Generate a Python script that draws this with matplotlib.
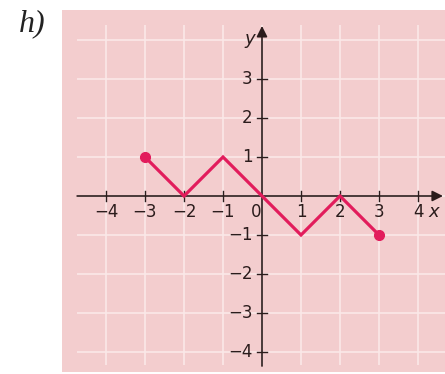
import matplotlib
matplotlib.use("Agg")
import matplotlib.pyplot as plt
from matplotlib.patches import Rectangle

# piecewise graph h)
xs = [-3, -2, -1, 0, 1, 2, 3]
ys = [1, 0, 1, 0, -1, 0, -1]
x_ticks = [-4, -3, -2, -1, 1, 2, 3, 4]
y_ticks = [-4, -3, -2, -1, 1, 2, 3]
grid_vals = [-4, -3, -2, -1, 0, 1, 2, 3, 4]

BG = "#f3cdce"
GRID = "#fbe8e8"
LINE = "#e21c5c"
AX = "#2b1c1c"

plt.rcParams["font.family"] = ["Liberation Sans Narrow", "DejaVu Sans"]

fig = plt.figure(figsize=(4.45, 3.74), dpi=100)
ax = fig.add_axes([0, 0, 1, 1])
# pixel -> data: x = (px - 262) / 39, y = (196 - py) / 39
ax.set_xlim(-262 / 39, 183 / 39)
ax.set_ylim(-178 / 39, 196 / 39)
ax.axis("off")

ax.add_patch(Rectangle((-200 / 39, -176 / 39), 400 / 39, 362 / 39,
                       facecolor=BG, edgecolor="none", zorder=0))

ax.vlines(grid_vals, -4.33, 4.38, color=GRID, lw=1.2, zorder=1)
ax.hlines(grid_vals, -4.74, 4.75, color=GRID, lw=1.2, zorder=1)

# axes with arrows
ax.annotate("", xy=(4.64, 0), xytext=(-4.74, 0),
            arrowprops=dict(arrowstyle="-|>", color=AX, lw=1.2,
                            mutation_scale=16, shrinkA=0, shrinkB=0), zorder=3)
ax.annotate("", xy=(0, 4.36), xytext=(0, -4.36),
            arrowprops=dict(arrowstyle="-|>", color=AX, lw=1.2,
                            mutation_scale=16, shrinkA=0, shrinkB=0), zorder=3)

t = 0.13
for xv in x_ticks:
    ax.plot([xv, xv], [-t, t], color=AX, lw=1.0, zorder=3)
    ax.text(xv, -0.41, f"{xv}".replace("-", "\u2212"), ha="center", va="center",
            fontsize=12, color=AX, zorder=4)
ax.text(-0.16, -0.41, "0", ha="center", va="center", fontsize=12, color=AX, zorder=4)
for yv in y_ticks:
    ax.plot([-t, t], [yv, yv], color=AX, lw=1.0, zorder=3)
    ax.text(-0.24, yv, f"{yv}".replace("-", "\u2212"), ha="right", va="center",
            fontsize=12, color=AX, zorder=4)

ax.text(-0.31, 4.02, "y", ha="center", va="center", fontsize=13,
        style="italic", color=AX, zorder=4)
ax.text(4.4, -0.41, "x", ha="center", va="center", fontsize=13,
        style="italic", color=AX, zorder=4)

ax.plot(xs, ys, color=LINE, lw=2.3, solid_joinstyle="miter", zorder=5)
ax.plot([xs[0], xs[-1]], [ys[0], ys[-1]], "o", color=LINE, ms=7, zorder=6)

fig.text(32 / 445, 1 - 24 / 374, "h)", ha="center", va="center", fontsize=23,
         family=["Liberation Serif", "DejaVu Serif"], style="italic", color="#222222")

fig.savefig("out.png", dpi=100)
